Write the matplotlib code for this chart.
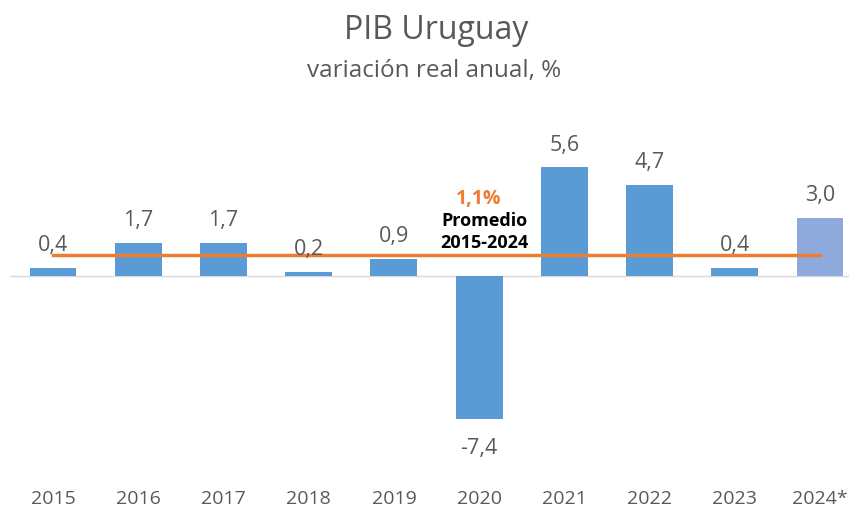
import matplotlib
matplotlib.use("Agg")
import matplotlib.pyplot as plt
import numpy as np

# 字体
plt.rcParams["font.family"] = ["Open Sans", "DejaVu Sans"]

# 数据
years = ["2015", "2016", "2017", "2018", "2019", "2020", "2021", "2022", "2023", "2024*"]
growth = [0.4, 1.7, 1.7, 0.2, 0.9, -7.4, 5.6, 4.7, 0.4, 3.0]
labels = ["0,4", "1,7", "1,7", "0,2", "0,9", "-7,4", "5,6", "4,7", "0,4", "3,0"]
average = 1.1
average_label = "1,1%"

BLUE = "#5B9BD5"
LIGHT_BLUE = "#8EA9DB"
ORANGE = "#ED7D31"
GREY = "#595959"

fig = plt.figure(figsize=(8.49, 5.13), dpi=100)
W, H = 849, 513
# 轴区域（像素换算为画布比例）
left, right, top, bottom = 10.4, 862.6, 110, 480
ax = fig.add_axes([left / W, 1 - bottom / H, (right - left) / W, (bottom - top) / H])

x = np.arange(len(years))
colors = [BLUE] * (len(years) - 1) + [LIGHT_BLUE]
bars = ax.bar(x, growth, width=0.55, color=colors, zorder=2)

ax.set_xlim(-0.5, len(years) - 0.5)
ax.set_ylim(-10.52, 8.56)
ax.axhline(0, color="#D9D9D9", linewidth=1, zorder=1)

# 平均线
ax.plot([x[0], x[-1]], [average, average], color=ORANGE, linewidth=2.5, zorder=3)

# 数据标签
for xi, v, lab in zip(x, growth, labels):
    if v >= 0:
        ax.annotate(lab, (xi, v), xytext=(0, 8.5), textcoords="offset points",
                    ha="center", va="bottom", fontsize=15.5, color=GREY)
    else:
        ax.annotate(lab, (xi, v), xytext=(0, -13), textcoords="offset points",
                    ha="center", va="top", fontsize=15.5, color=GREY)

# 平均注释
ax.annotate(average_label, (x[5], average), xytext=(0, 40), textcoords="offset points",
            ha="center", va="center", fontsize=14, fontweight="bold", color=ORANGE)
ax.annotate("Promedio", (x[5] + 0.065, average), xytext=(0, 24), textcoords="offset points",
            ha="center", va="center", fontsize=13, fontweight="bold", color="black")
ax.annotate("2015-2024", (x[5] + 0.065, average), xytext=(0, 8.4), textcoords="offset points",
            ha="center", va="center", fontsize=13, fontweight="bold", color="black")

# 坐标轴
ax.set_xticks(x)
ax.set_xticklabels(years, fontsize=14, color=GREY)
ax.tick_params(axis="x", length=0, pad=7)
ax.set_yticks([])
for s in ax.spines.values():
    s.set_visible(False)

# 标题
fig.text(436 / W, 1 - 31 / H, "PIB Uruguay", ha="center", va="center", fontsize=23, color=GREY)
fig.text(434 / W, 1 - 71 / H, "variación real anual, %", ha="center", va="center", fontsize=17.5, color=GREY)

fig.savefig("out.png", dpi=100)
plt.close(fig)
